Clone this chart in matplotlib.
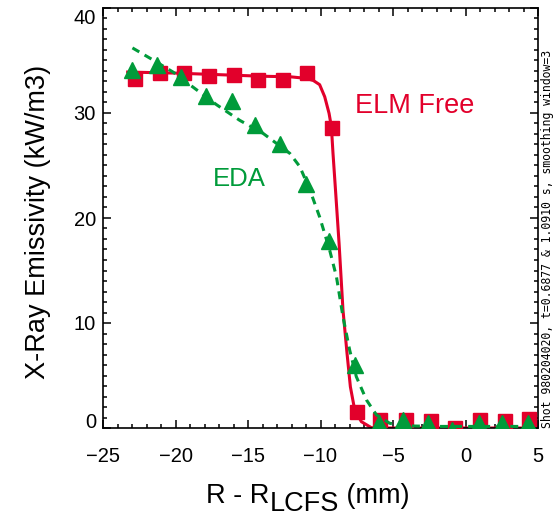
import matplotlib
matplotlib.use("Agg")
import matplotlib.pyplot as plt
from matplotlib.ticker import MultipleLocator
from matplotlib.transforms import ScaledTranslation
import matplotlib.font_manager as fm

# ---------------- data ----------------
elm_x = [-22.8, -21.1, -19.4, -17.7, -16.0, -14.3, -12.6, -10.9, -9.2, -7.5,
         -5.9, -4.1, -2.4, -0.7, 1.0, 2.7, 4.4]
elm_y = [33.2, 33.8, 33.8, 33.5, 33.6, 33.1, 33.1, 33.8, 28.6, 1.5,
         0.8, 0.8, 0.7, 0.0, 0.8, 0.7, 0.9]

eda_x = [-23.0, -21.3, -19.6, -17.9, -16.1, -14.5, -12.8, -11.0, -9.4, -7.6,
         -6.0, -4.3, -2.6, -0.9, 0.9, 2.5, 4.3]
eda_y = [34.1, 34.6, 33.4, 31.6, 31.1, 28.9, 27.0, 23.2, 17.8, 6.0,
         0.5, 0.8, 0.45, -0.2, 0.5, 0.45, 0.5]

elm_fit_x = [-23.3, -20.0, -17.0, -14.0, -12.1, -11.0, -10.5, -10.06, -9.71, -9.41,
             -9.25, -9.14, -8.95, -8.72, -8.45, -8.17, -7.94, -7.64, -7.18, -6.49,
             -5.5, 4.6]
elm_fit_y = [33.9, 33.8, 33.65, 33.5, 33.45, 33.3, 33.1, 32.7, 31.55, 29.97,
             28.7, 26.2, 22.35, 17.6, 11.24, 7.1, 3.93, 1.71, 0.6, 0.03,
             0.0, 0.0]

eda_fit_x = [-22.97, -21.55, -20.17, -19.02, -17.18, -15.57, -13.97, -12.12, -11.43,
             -10.74, -10.06, -9.37, -8.9, -8.45, -7.99, -7.53, -6.83, -6.14, -5.23,
             -4.0, -2.0, 0.0, 2.0, 4.5]
eda_fit_y = [36.2, 35.05, 33.9, 32.7, 30.8, 29.3, 28.07, 26.16, 24.9,
             22.7, 20.1, 16.95, 14.4, 10.6, 7.43, 4.89, 2.67, 1.24, 0.45,
             0.2, 0.15, 0.15, 0.15, 0.15]

x_ticks = [-25, -20, -15, -10, -5, 0, 5]
y_ticks = [0, 10, 20, 30, 40]

RED = "#E2002B"
GREEN = "#009B3A"

# ---------------- fonts ----------------
names = {f.name for f in fm.fontManager.ttflist}
narrow = "Liberation Sans Narrow" if "Liberation Sans Narrow" in names else "Liberation Sans"
sans = "Liberation Sans"

W, H = 554, 519
fig = plt.figure(figsize=(W / 100, H / 100), dpi=100)
ax = fig.add_axes([103 / W, (H - 428) / H, 435 / W, 420 / H])

ax.plot(elm_fit_x, elm_fit_y, color=RED, lw=2.2, zorder=2)
ax.plot(elm_x, elm_y, ls="none", marker="s", ms=10, color=RED, mec=RED, zorder=3)
ax.plot(eda_fit_x, eda_fit_y, color=GREEN, lw=2.2, ls=(0, (2.6, 2.0)), zorder=4)
ax.plot(eda_x, eda_y, ls="none", marker="^", ms=11.5, color=GREEN, mec=GREEN, zorder=5)

ax.set_xlim(-25, 5)
ax.set_ylim(0, 40)
ax.set_xticks(x_ticks)
ax.set_yticks(y_ticks)
ax.xaxis.set_minor_locator(MultipleLocator(1))
ax.yaxis.set_minor_locator(MultipleLocator(1))
ax.tick_params(which="both", direction="in", top=True, right=True, width=1.1,
               colors="black")
ax.tick_params(which="major", length=5.8)
ax.tick_params(which="minor", length=2.9)
ax.tick_params(axis="x", which="major", pad=14)
ax.tick_params(axis="y", which="major", pad=5)
for lab in ax.get_xticklabels() + ax.get_yticklabels():
    lab.set_fontfamily(narrow)
    lab.set_fontsize(14.5)
for s in ax.spines.values():
    s.set_linewidth(1.2)

# nudge end y tick labels inward (as in the reference)
yt = ax.yaxis.get_major_ticks()
for tick, val in zip(yt, y_ticks):
    if val == y_ticks[-1]:
        tick.label1.set_transform(tick.label1.get_transform() +
                                  ScaledTranslation(0, -9 / 100, fig.dpi_scale_trans))
    elif val == y_ticks[0]:
        tick.label1.set_transform(tick.label1.get_transform() +
                                  ScaledTranslation(0, 8 / 100, fig.dpi_scale_trans))

ax.text(-7.64, 30.67, "ELM Free", color=RED, fontsize=19.5, family=sans,
        ha="left", va="center")
ax.text(-15.57, 23.7, "EDA", color=GREEN, fontsize=18.5, family=sans,
        ha="center", va="center")

LABEL_FS = 19.5
# y label
fig.text(38 / W, 1 - 222 / H, "X-Ray Emissivity (kW/m3)", rotation=90,
         fontsize=LABEL_FS, family=sans, ha="center", va="center")

# x label composed of pieces (subscript same size, lowered)
fig.canvas.draw()
r = fig.canvas.get_renderer()
base_y = 503
parts = [("R - R", 0), ("LCFS", 8), (" (mm)", 0)]
objs = []
for txt, dy in parts:
    t = fig.text(0, 1 - (base_y + dy) / H, txt, fontsize=LABEL_FS, family=sans,
                 ha="left", va="baseline")
    objs.append(t)
widths = [o.get_window_extent(r).width for o in objs]
total = sum(widths)
x0 = 308 - total / 2
for o, w in zip(objs, widths):
    o.set_x(x0 / W)
    x0 += w

# right side info text
info = "Shot 980204020, t=0.6877 & 1.0910 s, smoothing window=3"
ti = fig.text(547 / W, 1 - 428 / H, info, rotation=90, fontsize=8,
              family="DejaVu Sans Mono", ha="center", va="bottom")
fig.canvas.draw()
h = ti.get_window_extent(r).height
ti.set_fontsize(8 * 385 / h)

fig.savefig("out.png", dpi=100)
